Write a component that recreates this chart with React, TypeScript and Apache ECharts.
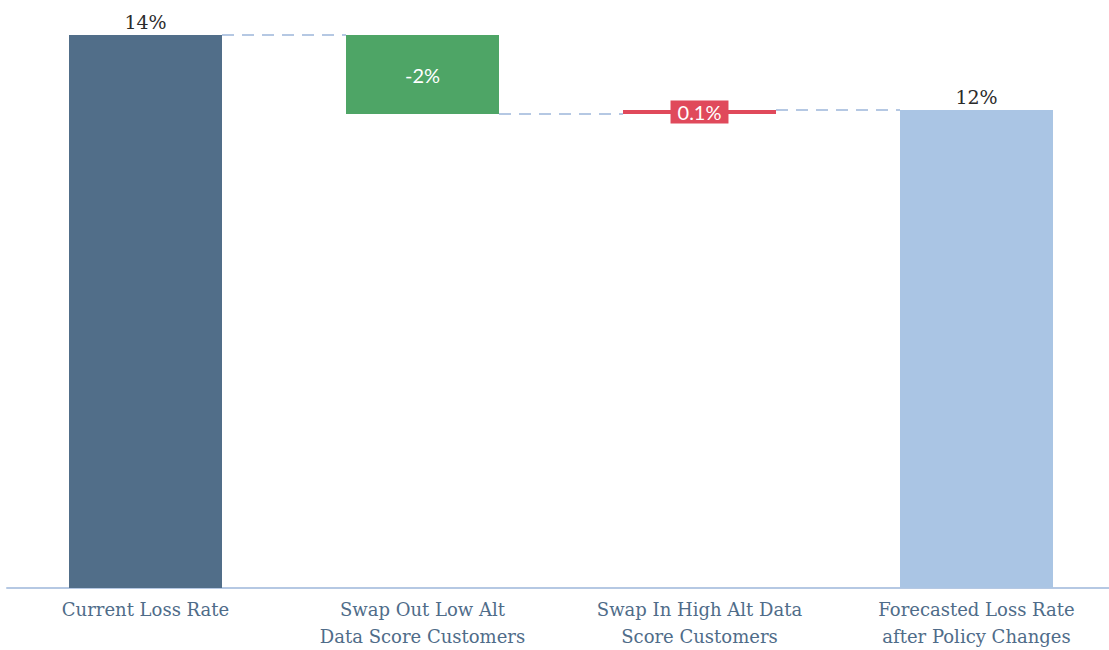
import React, { useEffect, useRef } from "react";
import * as echarts from "echarts";

// Waterfall of loss rate changes (percent)
const categories = [
  "Current Loss Rate",
  "Swap Out Low Alt\nData Score Customers",
  "Swap In High Alt Data\nScore Customers",
  "Forecasted Loss Rate\nafter Policy Changes",
];
const startRate = 14;
const changes = [-2, 0.1];
const barColors = ["#516e89", "#4ea566", "#e0495b", "#aac5e4"];

const BAR_WIDTH = 153;
const SERIF = "DejaVu Serif";
const SANS = "Lato";

// running levels: start, after each change
const levels: number[] = [startRate];
changes.forEach((c) => levels.push(Math.round((levels[levels.length - 1] + c) * 10) / 10));
const endRate = levels[levels.length - 1];

const bases: number[] = [0];
const heights: number[] = [startRate];
changes.forEach((c, i) => {
  bases.push(Math.min(levels[i], levels[i + 1]));
  heights.push(Math.abs(c));
});
bases.push(0);
heights.push(endRate);

const labelTexts = [
  `${Math.round(startRate)}%`,
  ...changes.map((c) => `${c}%`),
  `${Math.round(endRate)}%`,
];

// connector levels between consecutive bars
const connectors = levels.map((lv, i) => [i, lv]);

export default function App() {
  const ref = useRef<HTMLDivElement>(null);

  useEffect(() => {
    if (!ref.current) return;
    const chart = echarts.init(ref.current, null, { renderer: "svg" });

    const barData = heights.map((h, i) => {
      const isTotal = i === 0 || i === heights.length - 1;
      const isSmall = !isTotal && h < 0.5;
      return {
        value: h,
        itemStyle: { color: barColors[i] },
        label: {
          show: true,
          formatter: () => labelTexts[i],
          position: isTotal ? "top" : "inside",
          distance: 4,
          fontFamily: isTotal ? SERIF : SANS,
          fontSize: isTotal ? 19 : 20,
          color: isTotal ? "#2b2b2b" : "#ffffff",
          ...(isSmall
            ? {
                backgroundColor: barColors[i],
                padding: [2, 7, 1, 7],
              }
            : {}),
        },
      };
    });

    chart.setOption({
      animation: false,
      grid: { left: 7, top: 35, bottom: 62, width: 1108, outerBoundsMode: "none" },
      xAxis: {
        type: "category",
        data: categories,
        axisTick: { show: false },
        axisLine: { lineStyle: { color: "#b5c8e3", width: 2 } },
        axisLabel: {
          color: "#4f6c89",
          fontFamily: SERIF,
          fontSize: 18,
          lineHeight: 27,
          margin: 8,
          interval: 0,
        },
      },
      yAxis: {
        type: "value",
        min: 0,
        max: startRate,
        show: false,
        splitLine: { show: false },
      },
      series: [
        {
          type: "bar",
          stack: "w",
          barWidth: BAR_WIDTH,
          silent: true,
          itemStyle: { color: "transparent" },
          data: bases,
        },
        {
          type: "bar",
          stack: "w",
          barWidth: BAR_WIDTH,
          data: barData,
        },
        {
          type: "custom",
          silent: true,
          encode: { x: 0, y: 1 },
          data: connectors,
          renderItem: (params: any, api: any) => {
            const idx = api.value(0);
            const lv = api.value(1);
            const p0 = api.coord([idx, lv]);
            const p1 = api.coord([idx + 1, lv]);
            return {
              type: "line",
              shape: {
                x1: p0[0] + BAR_WIDTH / 2,
                y1: p0[1],
                x2: p1[0] - BAR_WIDTH / 2,
                y2: p1[1],
              },
              style: { stroke: "#b5c8e3", lineWidth: 2, lineDash: [12, 8] },
            };
          },
        },
      ],
    });

    return () => chart.dispose();
  }, []);

  return (
    <div
      ref={ref}
      style={{ position: "absolute", left: 0, top: 0, width: 1109, height: 650, background: "#fff" }}
    />
  );
}
